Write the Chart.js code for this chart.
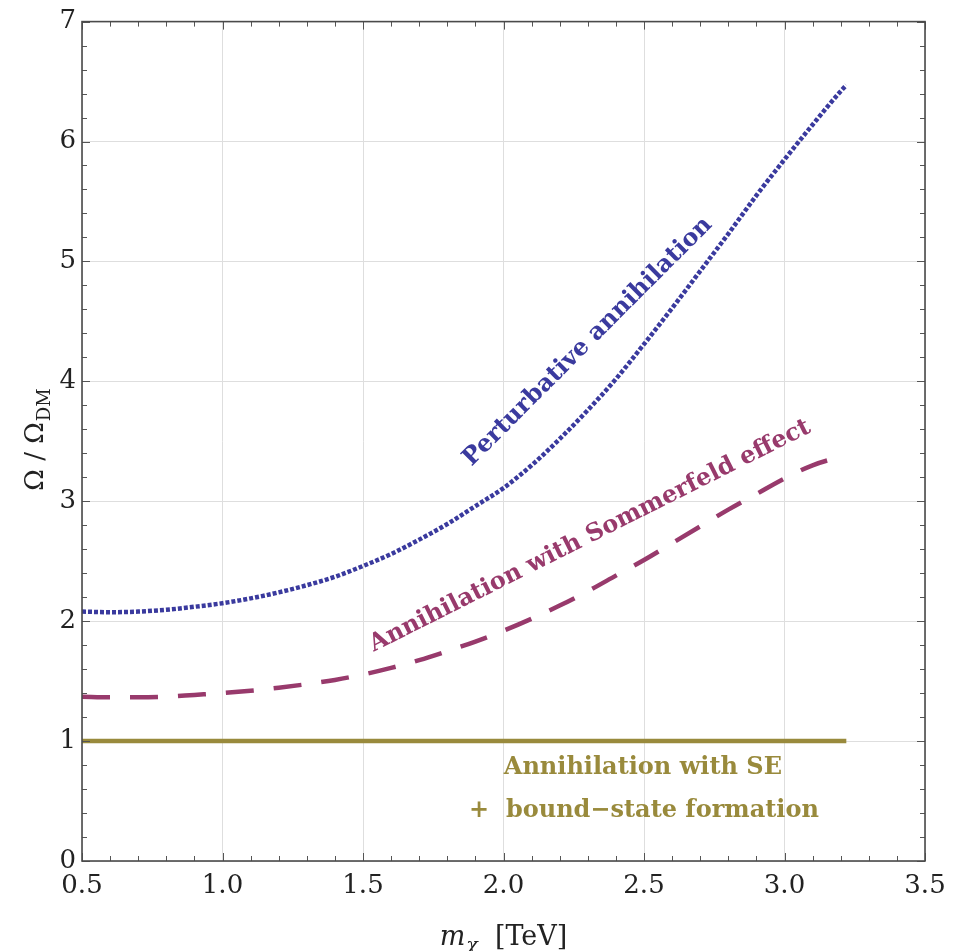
<!DOCTYPE html>
<html><head><meta charset="utf-8">
<script src="https://cdn.jsdelivr.net/npm/chart.js@4.4.0/dist/chart.umd.min.js"></script>
<style>html,body{margin:0;padding:0;background:#fff}#wrap{width:964px;height:951px}</style>
</head><body><div id="wrap"><canvas id="c" width="964" height="951"></canvas></div>
<script>
// ---- data ----
const massTeV = [0.5,0.6,0.7,0.8,0.9,1.0,1.1,1.2,1.3,1.4,1.5,1.6,1.7,1.8,1.9,2.0,2.1,2.2,2.3,2.4,2.5,2.6,2.7,2.8,2.9,3.0,3.1,3.2,3.22];
const perturbative = [2.08,2.075,2.08,2.095,2.12,2.15,2.19,2.24,2.30,2.37,2.46,2.56,2.68,2.81,2.96,3.11,3.30,3.52,3.76,4.02,4.31,4.61,4.92,5.23,5.55,5.85,6.14,6.42,6.47];
const sommerfeld = [1.37,1.365,1.365,1.37,1.385,1.40,1.42,1.445,1.475,1.51,1.555,1.61,1.675,1.75,1.83,1.92,2.02,2.13,2.25,2.38,2.51,2.65,2.79,2.93,3.06,3.19,3.30,3.37,3.38];
const boundStateMass = [0.5, 3.22];
const boundState = [1.0, 1.0];
const xTickValues = [0.5,1.0,1.5,2.0,2.5,3.0,3.5];
const yTickValues = [0,1,2,3,4,5,6,7];

// ---- styling / annotation config ----
const COL_BLUE = '#3a3a9e';
const COL_PURPLE = '#983a6c';
const COL_GOLD = '#998a3c';
const SERIF = '"DejaVu Serif", "Liberation Serif", serif';
const labels = [
  {text:'Perturbative annihilation', x:2.30, y:4.33, angle:-45, color:COL_BLUE},
  {text:'Annihilation with Sommerfeld effect', x:2.308, y:2.71, angle:-26.7, color:COL_PURPLE},
  {text:'Annihilation with SE', x:2.496, y:0.78, angle:0, color:COL_GOLD},
  {text:'+  bound\u2212state formation', x:2.50, y:0.42, angle:0, color:COL_GOLD}
];

const pts = (xs, ys) => xs.map((x,i)=>({x:x, y:ys[i]}));

const decor = {
  id:'decor',
  afterDraw(chart){
    const ctx = chart.ctx, a = chart.chartArea, xs = chart.scales.x, ys = chart.scales.y;
    ctx.save();
    // inner ticks
    ctx.strokeStyle = '#555'; ctx.lineWidth = 1;
    ctx.beginPath();
    for (let i=0;i<=30;i++){
      const px = Math.round(xs.getPixelForValue(0.5+i*0.1))+0.5;
      const L = (i%5===0)?8:5;
      ctx.moveTo(px,a.bottom); ctx.lineTo(px,a.bottom-L);
      ctx.moveTo(px,a.top); ctx.lineTo(px,a.top+L);
    }
    for (let i=0;i<=35;i++){
      const py = Math.round(ys.getPixelForValue(i*0.2))+0.5;
      const L = (i%5===0)?8:5;
      ctx.moveTo(a.left,py); ctx.lineTo(a.left+L,py);
      ctx.moveTo(a.right,py); ctx.lineTo(a.right-L,py);
    }
    ctx.stroke();
    // frame
    ctx.strokeStyle = '#4a4a4a'; ctx.lineWidth = 1.6;
    ctx.strokeRect(a.left, a.top, a.right-a.left, a.bottom-a.top);
    // curve labels
    ctx.font = 'bold 24px ' + SERIF;
    ctx.textAlign = 'center'; ctx.textBaseline = 'middle';
    labels.forEach(l=>{
      ctx.save();
      ctx.translate(xs.getPixelForValue(l.x), ys.getPixelForValue(l.y));
      ctx.rotate(l.angle*Math.PI/180);
      ctx.fillStyle = l.color;
      ctx.fillText(l.text, 0, 0);
      ctx.restore();
    });
    // x-axis title: m_chi [TeV]
    ctx.fillStyle = '#222';
    ctx.textAlign = 'left'; ctx.textBaseline = 'alphabetic';
    const by = 945;
    const f1 = 'italic 27px ' + SERIF, f2 = 'italic 19px ' + SERIF, f3 = '27px ' + SERIF;
    ctx.font = f1; const wm = ctx.measureText('m').width;
    ctx.font = f2; const wc = ctx.measureText('\u03c7').width;
    ctx.font = f3; const wt = ctx.measureText('  [TeV]').width;
    let x0 = 503 - (wm+wc+wt)/2;
    ctx.font = f1; ctx.fillText('m', x0, by); x0 += wm+1;
    ctx.font = f2; ctx.fillText('\u03c7', x0, by+6); x0 += wc;
    ctx.font = f3; ctx.fillText('  [TeV]', x0, by);
    // y-axis title: Omega / Omega_DM
    ctx.save();
    ctx.translate(43, 440);
    ctx.rotate(-Math.PI/2);
    const g1 = '26px ' + SERIF, g2 = '18px ' + SERIF;
    ctx.font = g1; const w1 = ctx.measureText('\u03a9 / \u03a9').width;
    ctx.font = g2; const w2 = ctx.measureText('DM').width;
    let y0 = -(w1+w2)/2;
    ctx.font = g1; ctx.fillText('\u03a9 / \u03a9', y0, 0); y0 += w1+1;
    ctx.font = g2; ctx.fillText('DM', y0, 7);
    ctx.restore();
    ctx.restore();
  }
};

new Chart(document.getElementById('c'), {
  type:'line',
  data:{
    datasets:[
      {label:'Annihilation with SE + bound-state formation', data:pts(boundStateMass, boundState), borderColor:COL_GOLD, borderWidth:4.5, pointRadius:0, fill:false},
      {label:'Annihilation with Sommerfeld effect', data:pts(massTeV, sommerfeld), borderColor:COL_PURPLE, borderWidth:4.5, borderDash:[28,20], borderCapStyle:'butt', pointRadius:0, cubicInterpolationMode:'monotone', fill:false},
      {label:'Perturbative annihilation', data:pts(massTeV, perturbative), borderColor:COL_BLUE, borderWidth:4.5, borderDash:[4,2], borderCapStyle:'butt', pointRadius:0, cubicInterpolationMode:'monotone', fill:false}
    ]
  },
  options:{
    responsive:false, animation:false, devicePixelRatio:1,
    layout:{padding:{top:19,right:39,left:0,bottom:0}},
    plugins:{legend:{display:false}, tooltip:{enabled:false}},
    scales:{
      x:{type:'linear', min:0.5, max:3.5,
        afterBuildTicks(s){ s.ticks = xTickValues.map(v=>({value:v})); },
        afterFit(s){ s.height = 90; },
        grid:{color:'#dedede', lineWidth:1, drawTicks:false},
        border:{display:false},
        ticks:{font:{family:SERIF, size:26}, color:'#222', padding:10, maxRotation:0, autoSkip:false, callback:v=>v.toFixed(1)}
      },
      y:{type:'linear', min:0, max:7,
        afterBuildTicks(s){ s.ticks = yTickValues.map(v=>({value:v})); },
        afterFit(s){ s.width = 82; },
        grid:{color:'#dedede', lineWidth:1, drawTicks:false},
        border:{display:false},
        ticks:{font:{family:SERIF, size:26}, color:'#222', padding:6, autoSkip:false, callback:v=>String(v)}
      }
    }
  },
  plugins:[decor]
});
</script></body></html>
